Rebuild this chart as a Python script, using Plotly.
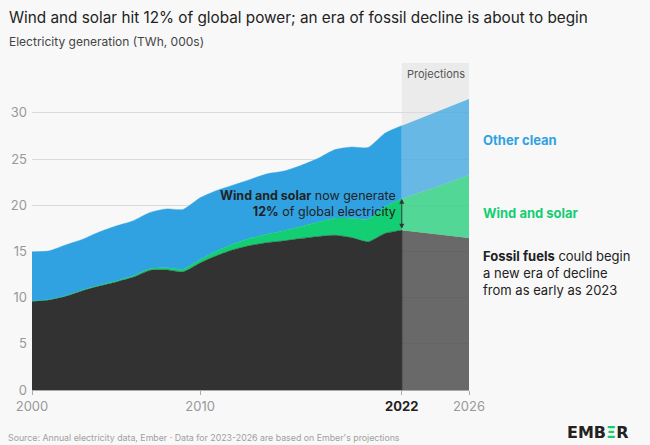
import plotly.graph_objects as go

# ---- data (TWh, thousands) ----
years = list(range(2000, 2023))
fossil = [9.6, 9.75, 10.15, 10.75, 11.25, 11.7, 12.2, 12.95, 13.0, 12.8, 13.75, 14.55,
          15.2, 15.65, 15.95, 16.15, 16.4, 16.6, 16.75, 16.5, 16.05, 16.95, 17.3]
wind_solar = [0.03, 0.04, 0.05, 0.07, 0.09, 0.11, 0.14, 0.18, 0.23, 0.29, 0.37, 0.5,
              0.63, 0.78, 0.92, 1.1, 1.3, 1.57, 1.85, 2.1, 2.45, 2.9, 3.4]
other_clean = [5.32, 5.26, 5.5, 5.48, 5.76, 5.94, 5.96, 6.07, 6.37, 6.46, 6.68, 6.55,
               6.37, 6.37, 6.53, 6.45, 6.6, 6.88, 7.4, 7.7, 7.75, 7.95, 7.9]

proj_years = [2022, 2023, 2024, 2025, 2026]
proj_fossil = [17.3, 17.1, 16.9, 16.7, 16.45]
proj_wind_solar = [3.4, 4.2, 5.05, 5.9, 6.85]
proj_other_clean = [7.9, 8.03, 8.15, 8.18, 8.2]

x_tickvals = [2000, 2010, 2022, 2026]
x_ticktext = ["2000", "2010", "<b style='color:#222'>2022</b>", "2026"]
y_tickvals = [0, 5, 10, 15, 20, 25, 30]

C_FOSSIL = "#323232"
C_WS = "#13ce72"
C_OTHER = "#30a2e2"
BG = "#f8f8f8"
FONT = "Inter"

fig = go.Figure()

for name, vals, col in [("Fossil", fossil, C_FOSSIL), ("Wind and solar", wind_solar, C_WS),
                        ("Other clean", other_clean, C_OTHER)]:
    fig.add_trace(go.Scatter(x=years, y=vals, stackgroup="hist", mode="lines",
                             line=dict(color=col, width=0.5, shape="spline", smoothing=0.6),
                             fillcolor=col, name=name, hoverinfo="skip"))

for name, vals, col in [("Fossil proj", proj_fossil, "rgba(50,50,50,0.7)"),
                        ("Wind and solar proj", proj_wind_solar, "rgba(19,206,114,0.7)"),
                        ("Other clean proj", proj_other_clean, "rgba(48,162,226,0.7)")]:
    fig.add_trace(go.Scatter(x=proj_years, y=vals, stackgroup="proj", mode="lines",
                             line=dict(color=col, width=0),
                             fillcolor=col, name=name, hoverinfo="skip"))

# projections background
fig.add_shape(type="rect", xref="x", yref="y", x0=2022, x1=2026, y0=0, y1=35.4,
              fillcolor="#ebebeb", line_width=0, layer="below")

# arrow showing wind & solar share in 2022
fig.add_annotation(x=2022, y=fossil[-1] + wind_solar[-1], ax=2022, ay=fossil[-1],
                   xref="x", yref="y", axref="x", ayref="y", text="",
                   showarrow=True, arrowhead=2, arrowside="end+start", arrowsize=1,
                   arrowwidth=1, arrowcolor="#333")
fig.add_shape(type="line", xref="x", yref="y", x0=2022, x1=2022, y0=0, y1=fossil[-1],
              line=dict(color="#2a2a2a", width=1), layer="above")


def paper_x(px):
    return (px - 32) / 437.0


def paper_y(py):
    return (390 - py) / 327.0


texts = [
    dict(text="Wind and solar hit 12% of global power; an era of fossil decline is about to begin",
         x=paper_x(7), y=paper_y(18), xanchor="left", yanchor="middle",
         font=dict(size=15.3, color="#222")),
    dict(text="Electricity generation (TWh, 000s)", x=paper_x(7), y=paper_y(41),
         xanchor="left", yanchor="middle", font=dict(size=12, color="#444")),
    dict(text="Projections", x=paper_x(436), y=paper_y(74), xanchor="center", yanchor="middle",
         font=dict(size=11, color="#555")),
    dict(text="<b>Other clean</b>", x=paper_x(481), y=paper_y(140), xanchor="left",
         yanchor="middle", font=dict(size=13, color=C_OTHER)),
    dict(text="<b>Wind and solar</b>", x=paper_x(481), y=paper_y(213), xanchor="left",
         yanchor="middle", font=dict(size=13, color=C_WS)),
    dict(text="<b>Fossil fuels</b> could begin<br>a new era of decline<br>from as early as 2023",
         x=paper_x(481), y=paper_y(273), xanchor="left", yanchor="middle", align="left",
         font=dict(size=13, color="#222")),
    dict(text="<b>Wind and solar</b> now generate<br><b>12%</b> of global electricity",
         x=paper_x(398), y=paper_y(203.5), xanchor="right", yanchor="middle", align="right",
         font=dict(size=12.5, color="#222")),
    dict(text="Source: Annual electricity data, Ember · Data for 2023-2026 are based on Ember's projections",
         x=paper_x(6), y=paper_y(437), xanchor="left", yanchor="middle",
         font=dict(size=8.8, color="#a0a0a0")),
    dict(text="<b>EMB<span style='color:#13ce72'>Ξ</span>R</b>",
         x=paper_x(630), y=paper_y(432), xanchor="right", yanchor="middle",
         font=dict(size=16, color="#222", family="DejaVu Sans")),
]
for t in texts:
    t.update(xref="paper", yref="paper", showarrow=False)
    if "family" not in t["font"]:
        t["font"]["family"] = FONT
    fig.add_annotation(**t)

fig.update_layout(
    width=650, height=445,
    margin=dict(l=32, r=181, t=63, b=55),
    paper_bgcolor=BG, plot_bgcolor=BG,
    showlegend=False,
    font=dict(family=FONT, color="#888"),
    xaxis=dict(range=[2000, 2026], tickvals=x_tickvals, ticktext=x_ticktext,
               showgrid=False, zeroline=False, showline=True, linecolor="#aaa",
               ticks="outside", ticklen=4, tickcolor="#aaa",
               tickfont=dict(size=13, color="#999")),
    yaxis=dict(range=[0, 35.4], tickvals=y_tickvals, showgrid=True, gridcolor="#dadada",
               gridwidth=1, zeroline=False, showline=False,
               tickfont=dict(size=13, color="#999"), ticklabelstandoff=4),
)

fig.write_html("out.html")
